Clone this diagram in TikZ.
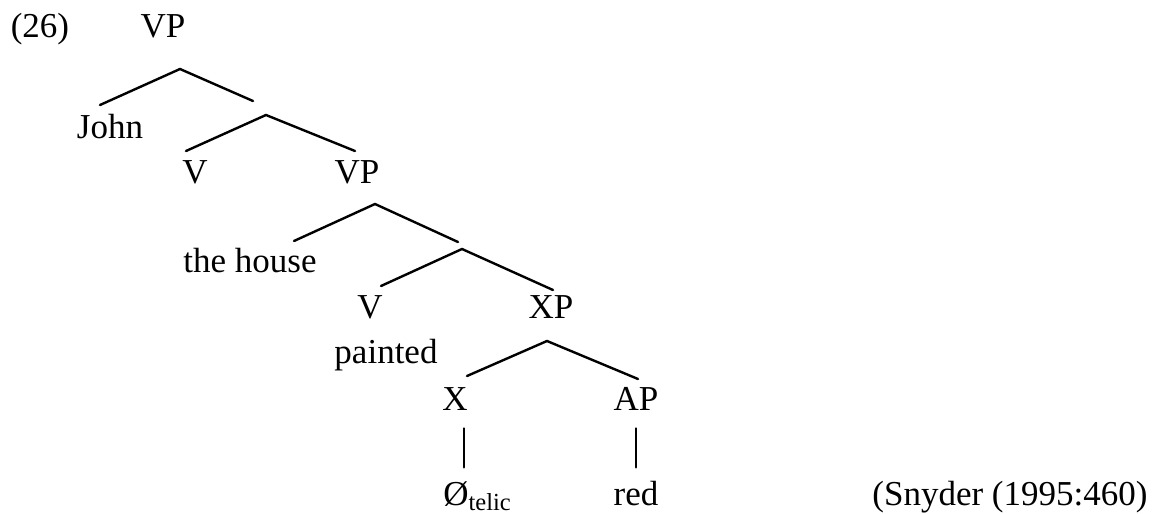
\documentclass[tikz,border=0pt]{standalone}
\usepackage{fontspec}
\setmainfont{Liberation Serif}
\tikzset{lbl/.style={anchor=base,inner sep=0pt,font=\fontsize{17.5}{20}\selectfont},branch/.style={line width=1.2pt,line cap=round}}

\begin{document}
\begin{tikzpicture}[x=0.5pt,y=-0.5pt]
\useasboundingbox (0,0) rectangle (1163,514);
% labels
\node[lbl] (ex) at (40,38) {(26)};
\node[lbl] (vp1) at (163,38) {VP};
\node[lbl] (john) at (110,138) {John};
\node[lbl] (v1) at (195,183) {V};
\node[lbl] (vp2) at (357,183) {VP};
\node[lbl] (house) at (250,272) {the house};
\node[lbl] (v2) at (370,318) {V};
\node[lbl] (xp) at (551,318) {XP};
\node[lbl] (painted) at (386,363) {painted};
\node[lbl] (x) at (455,410) {X};
\node[lbl] (ap) at (636,410) {AP};
\node[lbl,anchor=base west] (null) at (443,505) {Ø\textsubscript{telic}};
\node[lbl] (red) at (636,505) {red};
\node[lbl,anchor=base west] (src) at (872,505) {(Snyder (1995:460)};
% branch points
\coordinate (vp1-b) at (180,69);
\coordinate (john-t) at (100,105);
\coordinate (bar1-t) at (253,101);
\coordinate (bar1-b) at (266,115);
\coordinate (v1-t) at (186,151);
\coordinate (vp2-t) at (355,151);
\coordinate (vp2-b) at (375,204);
\coordinate (house-t) at (294,241);
\coordinate (bar2-t) at (458,242);
\coordinate (bar2-b) at (462,249);
\coordinate (v2-t) at (381,286);
\coordinate (xp-t) at (553,290);
\coordinate (xp-b) at (547,341);
\coordinate (x-t) at (467,376);
\coordinate (ap-t) at (638,379);
% branches
\draw[branch] (john-t) -- (vp1-b) -- (bar1-t);
\draw[branch] (v1-t) -- (bar1-b) -- (vp2-t);
\draw[branch] (house-t) -- (vp2-b) -- (bar2-t);
\draw[branch] (v2-t) -- (bar2-b) -- (xp-t);
\draw[branch] (x-t) -- (xp-b) -- (ap-t);
\draw[branch] (x.south -| 464,0) ++(0,18) -- ++(0,39);
\draw[branch] (ap.south) ++(0,18) -- ++(0,39);
\end{tikzpicture}
\end{document}
